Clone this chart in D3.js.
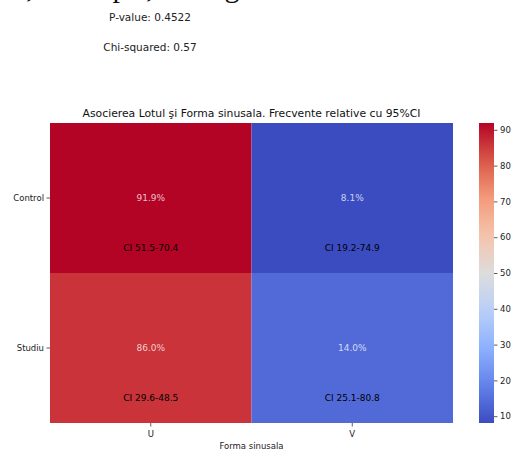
<!DOCTYPE html>
<html>
<head>
<meta charset="utf-8">
<script src="https://cdn.jsdelivr.net/npm/d3@7"></script>
<style>
  html, body { margin: 0; padding: 0; background: #fff; }
  svg { display: block; font-family: "DejaVu Sans", sans-serif; }
</style>
</head>
<body>
<svg id="chart" width="511" height="450"></svg>
<script>
// ---- data ----
const rows = ["Control", "Studiu"];
const cols = ["U", "V"];
const values = [[91.9, 8.1], [86.0, 14.0]];
const ciLabels = [["CI 51.5-70.4", "CI 19.2-74.9"], ["CI 29.6-48.5", "CI 25.1-80.8"]];
const colorbarTicks = [10, 20, 30, 40, 50, 60, 70, 80, 90];
const statLines = ["P-value: 0.4522", "Chi-squared: 0.57"];
const titleText = "Asocierea Lotul şi Forma sinusala. Frecvente relative cu 95%CI";
const xLabel = "Forma sinusala";
const topFragments = [",", "p", ",", "g"];
const coolwarmStops = ["#3b4cc0", "#6282ea", "#8db0fe", "#b9d0f9", "#dddcdc", "#f5c4ac", "#f49a7b", "#d95847", "#b40426"];

const svg = d3.select("#chart");

// cut-off serif descenders at the very top (text from above the visible area)
const fragX = d3.scalePoint().domain(d3.range(topFragments.length)).range([30, 232]);
svg.selectAll("text.frag").data(topFragments).enter().append("text")
  .attr("class", "frag")
  .attr("x", (d, i) => [30, 120, 150, 232][i])
  .attr("y", -3)
  .attr("text-anchor", "middle")
  .attr("font-family", "Liberation Serif, serif")
  .attr("font-size", 30).attr("fill", "#111")
  .text(d => d);

// stats text
svg.selectAll("text.stat").data(statLines).enter().append("text")
  .attr("class", "stat")
  .attr("x", 150).attr("y", (d, i) => 21 + i * 30)
  .attr("text-anchor", "middle").attr("font-size", 10.5).attr("fill", "#222")
  .text(d => d);

const mLeft = 50, mRight = 453, mTop = 123, mBottom = 423;
const x = d3.scaleBand().domain(cols).range([mLeft, mRight]);
const y = d3.scaleBand().domain(rows).range([mTop, mBottom]);

const allVals = values.flat();
const vmin = d3.min(allVals), vmax = d3.max(allVals);
const interp = d3.piecewise(d3.interpolateRgb, coolwarmStops);
const color = v => interp((v - vmin) / (vmax - vmin));

const cells = [];
rows.forEach((r, i) => cols.forEach((c, j) => cells.push({ r, c, v: values[i][j], ci: ciLabels[i][j] })));

svg.selectAll("rect.cell").data(cells).enter().append("rect")
  .attr("class", "cell")
  .attr("x", d => x(d.c)).attr("y", d => y(d.r))
  .attr("width", x.bandwidth()).attr("height", y.bandwidth())
  .attr("fill", d => color(d.v));

svg.selectAll("text.pct").data(cells).enter().append("text")
  .attr("class", "pct")
  .attr("x", d => x(d.c) + x.bandwidth() / 2)
  .attr("y", d => y(d.r) + y.bandwidth() / 2)
  .attr("dy", "0.35em").attr("text-anchor", "middle").attr("font-size", 9)
  .attr("fill", "#fff").attr("fill-opacity", 0.75)
  .text(d => d.v.toFixed(1) + "%");

svg.selectAll("text.ci").data(cells).enter().append("text")
  .attr("class", "ci")
  .attr("x", d => x(d.c) + x.bandwidth() / 2)
  .attr("y", d => y(d.r) + y.bandwidth() / 2 + 50)
  .attr("dy", "0.35em").attr("text-anchor", "middle").attr("font-size", 9)
  .attr("fill", "#000")
  .text(d => d.ci);

// axes
const xAxis = svg.append("g").attr("transform", `translate(0,${mBottom})`)
  .call(d3.axisBottom(x).tickSize(3.5).tickPadding(4.5));
const yAxis = svg.append("g").attr("transform", `translate(${mLeft},0)`)
  .call(d3.axisLeft(y).tickSize(3.5).tickPadding(2.5));
[xAxis, yAxis].forEach(g => {
  g.select(".domain").remove();
  g.selectAll("text").attr("font-size", 8.5).attr("fill", "#222").attr("font-family", "DejaVu Sans, sans-serif");
  g.selectAll("line").attr("stroke", "#333").attr("stroke-width", 0.8);
});

svg.append("text").attr("x", (mLeft + mRight) / 2).attr("y", 449)
  .attr("text-anchor", "middle").attr("font-size", 8.5).attr("fill", "#222").text(xLabel);

svg.append("text").attr("x", (mLeft + mRight) / 2).attr("y", 117)
  .attr("text-anchor", "middle").attr("font-size", 10.8).attr("fill", "#111").text(titleText);

// colorbar
const cbX = 479, cbW = 15;
const cy = d3.scaleLinear().domain([vmin, vmax]).range([mBottom, mTop]);
const defs = svg.append("defs");
const grad = defs.append("linearGradient").attr("id", "cbgrad")
  .attr("x1", 0).attr("y1", 1).attr("x2", 0).attr("y2", 0);
d3.range(0, 1.0001, 0.05).forEach(t => {
  grad.append("stop").attr("offset", t).attr("stop-color", interp(t));
});
svg.append("rect").attr("x", cbX).attr("y", mTop).attr("width", cbW).attr("height", mBottom - mTop)
  .attr("fill", "url(#cbgrad)");
const cAxis = svg.append("g").attr("transform", `translate(${cbX + cbW},0)`)
  .call(d3.axisRight(cy).tickValues(colorbarTicks).tickSize(3.5).tickPadding(2.5));
cAxis.select(".domain").remove();
cAxis.selectAll("text").attr("font-size", 8.5).attr("fill", "#222").attr("font-family", "DejaVu Sans, sans-serif");
cAxis.selectAll("line").attr("stroke", "#333").attr("stroke-width", 0.8);
</script>
</body>
</html>
